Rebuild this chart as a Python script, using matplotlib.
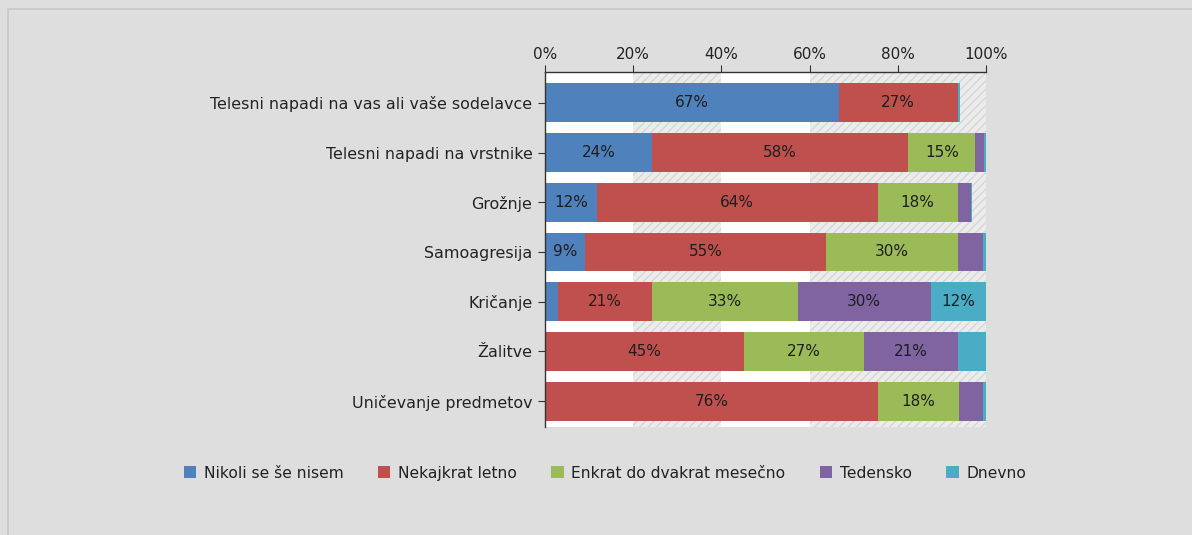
import numpy as np
import matplotlib.pyplot as plt
from matplotlib.patches import Rectangle

# categories (top to bottom)
categories = ['Telesni napadi na vas ali vaše sodelavce',
              'Telesni napadi na vrstnike',
              'Grožnje',
              'Samoagresija',
              'Kričanje',
              'Žalitve',
              'Uničevanje predmetov']

series_names = ['Nikoli se še nisem', 'Nekajkrat letno', 'Enkrat do dvakrat mesečno',
                'Tedensko', 'Dnevno']

# percentages
nikoli = [66.6, 24.2, 11.7, 9.1, 2.9, 0.0, 0.0]
nekajkrat = [27.0, 58.2, 63.7, 54.6, 21.4, 45.1, 75.6]
enkrat = [0.0, 15.2, 18.2, 30.0, 33.0, 27.2, 18.2]
tedensko = [0.0, 1.9, 3.0, 5.6, 30.2, 21.3, 5.5]
dnevno = [0.4, 0.5, 0.3, 0.7, 12.4, 6.4, 0.7]

colors = ['#4F81BD', '#C0504D', '#9BBB59', '#8064A2', '#4BACC6']
bg = '#DEDEDE'

fig = plt.figure(figsize=(11.92, 5.35), dpi=100)
fig.patch.set_facecolor(bg)
# outer frame of the chart area
fig.patches.append(Rectangle((8 / 1192, -0.1), 1.2, 1 - 9 / 535 + 0.1, transform=fig.transFigure,
                             fill=False, edgecolor='#C8C8C8', linewidth=1.2))

ax = fig.add_axes([545 / 1192, 1 - 427 / 535, 441 / 1192, (427 - 72) / 535])
ax.set_facecolor('white')

# alternating hatched bands in the plot area
for x0, x1 in [(20, 40), (60, 100)]:
    ax.axvspan(x0, x1, facecolor='#ECECEC', edgecolor='#D6D6D6', hatch='////', linewidth=0, zorder=0)

y = np.arange(len(categories))
left = np.zeros(len(categories))
for name, vals, c in zip(series_names, [nikoli, nekajkrat, enkrat, tedensko, dnevno], colors):
    vals = np.array(vals)
    ax.barh(y, vals, left=left, height=0.78, color=c, label=name, zorder=2)
    for yi, l, v in zip(y, left, vals):
        if v >= 9:
            ax.text(l + v / 2, yi, f'{round(v)}%', ha='center', va='center',
                    fontsize=11, color='#1E1E1E', zorder=3)
    left += vals

ax.set_xlim(0, 100)
ax.set_ylim(6.52, -0.62)
ax.set_yticks(y)
ax.set_yticklabels(categories, fontsize=11.4, color='#222222')
ax.set_xticks(np.arange(0, 101, 20))
ax.set_xticklabels([f'{t}%' for t in range(0, 101, 20)], fontsize=11, color='#222222')
ax.xaxis.tick_top()
ax.tick_params(axis='x', length=5, color='#333333', pad=2)
ax.tick_params(axis='y', length=5, color='#333333', pad=4)
for s in ['right', 'bottom']:
    ax.spines[s].set_visible(False)
for s in ['top', 'left']:
    ax.spines[s].set_color('#333333')
    ax.spines[s].set_linewidth(1)

fig.legend(loc='center', bbox_to_anchor=(605 / 1192, 1 - 473 / 535), ncol=5, frameon=False,
           fontsize=11.2, handlelength=0.8, handleheight=0.8, handletextpad=0.5,
           columnspacing=2.2, labelcolor='#222222')

plt.savefig('out.png', dpi=100, facecolor=bg)
